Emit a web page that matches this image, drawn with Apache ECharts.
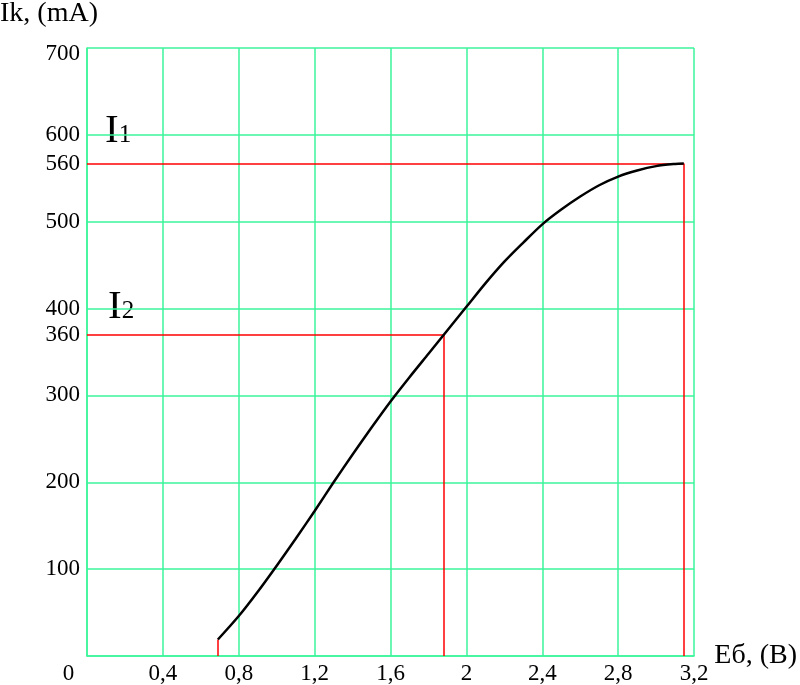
<!DOCTYPE html>
<html>
<head>
<meta charset="utf-8">
<script src="https://cdn.jsdelivr.net/npm/echarts@6/dist/echarts.min.js"></script>
<style>
  html, body { margin: 0; padding: 0; background: #fff; }
  #chart { width: 800px; height: 685px; }
</style>
</head>
<body>
<div id="chart"></div>
<script>
// ---- data ----
const ebValues = [0.69, 0.8, 0.9, 1.0, 1.1, 1.2, 1.3, 1.4, 1.5, 1.6, 1.7, 1.8, 1.9, 2.0,
                  2.1, 2.2, 2.3, 2.4, 2.5, 2.6, 2.7, 2.8, 2.9, 3.0, 3.1, 3.146];
const ikValues = [19, 46, 74, 104, 135, 167, 200, 232, 263, 293, 321, 348, 375, 402,
                  429, 454, 476, 497, 514, 529, 542, 552, 559, 564, 566.5, 567];
// reference (red) construction lines
const refLevels = [567, 370];          // positions of I1 and I2 lines
const refLabels = ['560', '360'];      // their labels
const refEb = [3.146, 1.883];          // where the curve reaches them
const startPoint = [0.69, 19];         // start of the curve
const xTicks = { min: 0, max: 3.2, interval: 0.4 };
const yTicks = { min: 0, max: 700, interval: 100 };
const xName = 'Eб, (B)';
const yName = 'Ik, (mA)';
const markNames = [['I', '1'], ['I', '2']];

const FONT = '"Liberation Serif", "DejaVu Serif", serif';
const GREEN = '#3cf59b';
const RED = '#ff0000';

const chart = echarts.init(document.getElementById('chart'), null, { renderer: 'canvas' });

function fmtX(v) {
  const s = String(+v.toFixed(1)).replace('.', ',');
  if (v === 0) return '{z|' + s + '}';
  return s;
}
function fmtY(v) {
  if (v === 0) return '';
  if (v === yTicks.max) return '{t|' + v + '}';
  return String(v);
}

const redLines = [
  [{ coord: [xTicks.min, refLevels[0]], label: { show: true, formatter: refLabels[0] } }, { coord: [refEb[0], refLevels[0]] }],
  [{ coord: [refEb[0], refLevels[0]] }, { coord: [refEb[0], 0] }],
  [{ coord: [xTicks.min, refLevels[1]], label: { show: true, formatter: refLabels[1] } }, { coord: [refEb[1], refLevels[1]] }],
  [{ coord: [refEb[1], refLevels[1]] }, { coord: [refEb[1], 0] }],
  [{ coord: [startPoint[0], 0] }, { coord: [startPoint[0], startPoint[1]] }]
];

const option = {
  animation: false,
  backgroundColor: '#ffffff',
  grid: { left: 87, right: 105, top: 48, bottom: 29, containLabel: false },
  xAxis: {
    type: 'value',
    min: xTicks.min, max: xTicks.max, interval: xTicks.interval,
    name: xName, nameLocation: 'end', nameGap: 20,
    nameTextStyle: { fontFamily: FONT, fontSize: 28, color: '#000', padding: [0, 0, 6, 0] },
    axisLine: { show: true, lineStyle: { color: GREEN, width: 1.5 } },
    axisTick: { show: false },
    splitLine: { show: true, lineStyle: { color: GREEN, width: 1.5 } },
    axisLabel: {
      fontFamily: FONT, fontSize: 23, color: '#000', margin: 6,
      formatter: fmtX,
      rich: { z: { fontFamily: FONT, fontSize: 23, color: '#000', padding: [0, 37, 0, 0] } }
    }
  },
  yAxis: {
    type: 'value',
    min: yTicks.min, max: yTicks.max, interval: yTicks.interval,
    axisLine: { show: true, lineStyle: { color: GREEN, width: 1.5 } },
    axisTick: { show: false },
    splitLine: { show: true, lineStyle: { color: GREEN, width: 1.5 } },
    axisLabel: {
      fontFamily: FONT, fontSize: 23, color: '#000', margin: 7,
      formatter: fmtY,
      rich: { t: { fontFamily: FONT, fontSize: 23, color: '#000', padding: [12, 0, 0, 0] } }
    }
  },
  series: [{
    type: 'line',
    data: ebValues.map((x, i) => [x, ikValues[i]]),
    smooth: 0.3,
    symbol: 'none',
    lineStyle: { color: '#000', width: 2.5 },
    z: 5,
    markLine: {
      silent: true,
      symbol: 'none',
      precision: 3,
      lineStyle: { color: RED, width: 1.5, type: 'solid' },
      label: { show: false, position: 'start', fontFamily: FONT, fontSize: 23, color: '#000', distance: 7 },
      emphasis: { disabled: true },
      data: redLines
    }
  }],
  graphic: [
    {
      type: 'text', x: 0, y: 28,
      style: { text: yName, font: '28px ' + FONT, fill: '#000', verticalAlign: 'bottom', align: 'left' }
    },
    {
      type: 'text', x: 105, y: 152,
      style: {
        text: '{a|' + markNames[0][0] + '}{b|' + markNames[0][1] + '}',
        verticalAlign: 'bottom', align: 'left',
        rich: {
          a: { fontFamily: FONT, fontSize: 41, fill: '#000', verticalAlign: 'bottom' },
          b: { fontFamily: FONT, fontSize: 25, fill: '#000', verticalAlign: 'bottom', padding: [0, 0, 4, 0] }
        }
      }
    },
    {
      type: 'text', x: 108, y: 328,
      style: {
        text: '{a|' + markNames[1][0] + '}{b|' + markNames[1][1] + '}',
        verticalAlign: 'bottom', align: 'left',
        rich: {
          a: { fontFamily: FONT, fontSize: 41, fill: '#000', verticalAlign: 'bottom' },
          b: { fontFamily: FONT, fontSize: 25, fill: '#000', verticalAlign: 'bottom', padding: [0, 0, 4, 0] }
        }
      }
    }
  ]
};
chart.setOption(option);
</script>
</body>
</html>
